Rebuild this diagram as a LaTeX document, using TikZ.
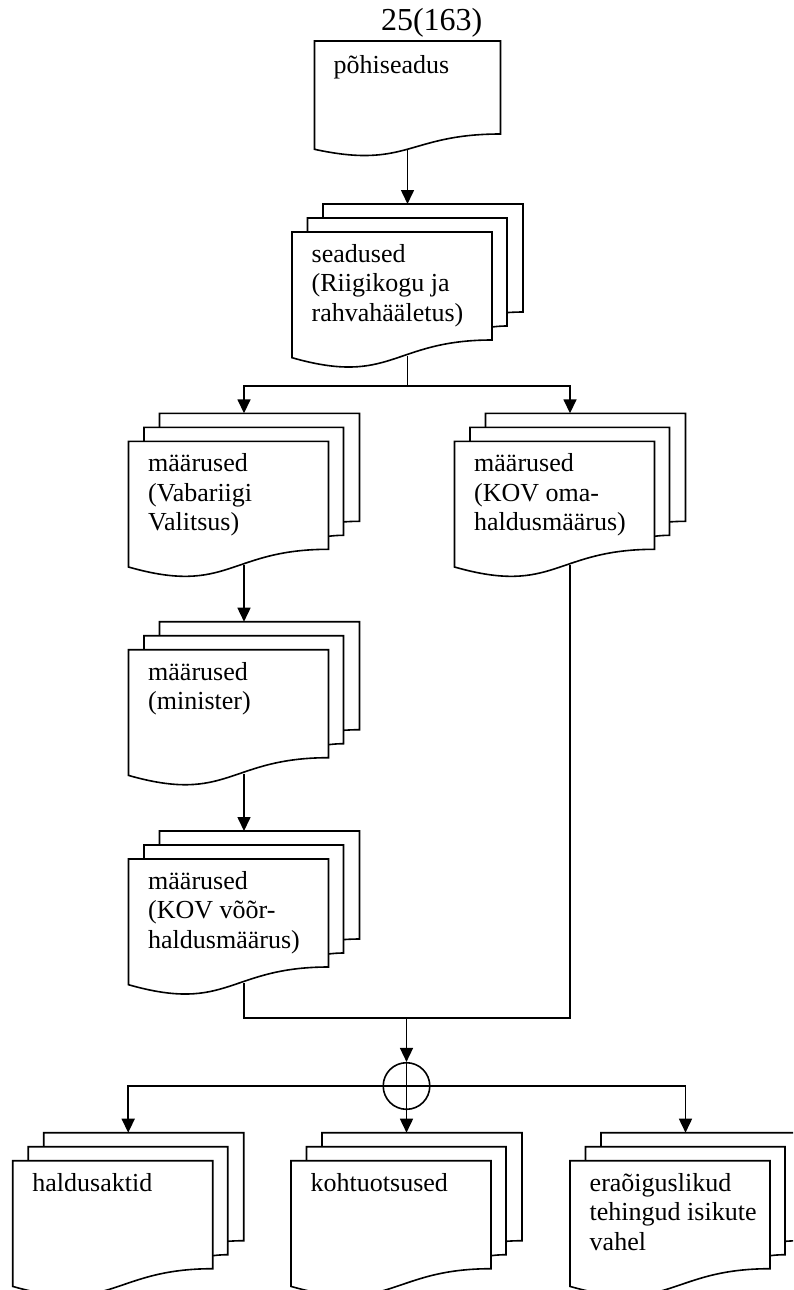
\documentclass[tikz,border=0pt]{standalone}
\usepackage{fontspec}
\setmainfont{Liberation Serif}
\usetikzlibrary{arrows.meta}
\tikzset{
  ln/.style={line width=1.6pt},
  arr/.style={ln, -{Triangle[length=14pt,width=13pt]}},
  lbl/.style={anchor=base west, inner sep=0pt, font=\fontsize{26}{29.5}\selectfont},
  stackbox/.style={minimum width=231pt, minimum height=152pt, inner sep=0pt, outer sep=0pt, anchor=north west},
  docbox/.style={minimum width=186pt, minimum height=108pt, inner sep=0pt, outer sep=0pt, anchor=north west},
}
\newcommand\mdoc[4]{%
  \node[stackbox] (#1) at (#2,#3) {};
  \begin{scope}[shift={(#1.north west)}]
    \draw[ln] (31,14) -- (31,0) -- (231,0) -- (231,108) .. controls (223,108) and (215,108.6) .. (215,108.6);
    \draw[ln] (15.5,28) -- (15.5,14) -- (215,14) -- (215,122) .. controls (207,122) and (200,123) .. (200,123);
    \draw[ln] (0,28) -- (200,28) -- (200,136) .. controls (100,136) and (100,182.3) .. (0,153.7) -- cycle;
    \node[lbl] (#1-t) at (19.5,58.3) {\begin{tabular}[t]{@{}l@{}}#4\end{tabular}};
  \end{scope}}
\begin{document}
\begin{tikzpicture}[x=1pt,y=-1pt]
\useasboundingbox (0,0) rectangle (793,1290);
\clip (0,0) rectangle (793,1290);
\node[font=\fontsize{32}{36}\selectfont, anchor=base, inner sep=0pt] (pg) at (431.7,31) {25(163)};
% single document
\node[docbox] (doc) at (314.5,41) {};
\begin{scope}[shift={(doc.north west)}]
  \draw[ln] (0,0) -- (186,0) -- (186,93) .. controls (93,93) and (93,128.5) .. (0,108.3) -- cycle;
  \node[lbl] (doc-t) at (19,32.5) {põhiseadus};
\end{scope}
\mdoc{sead}{292}{204}{seadused\\(Riigikogu ja\\rahvahääletus)}
\mdoc{vab}{128.5}{413.3}{määrused\\(Vabariigi\\Valitsus)}
\mdoc{oma}{454.5}{413.3}{määrused\\(KOV oma-\\haldusmäärus)}
\mdoc{min}{128.5}{621.7}{määrused\\(minister)}
\mdoc{voor}{128.5}{831}{määrused\\(KOV võõr-\\haldusmäärus)}
\mdoc{hald}{12.7}{1132.7}{haldusaktid}
\mdoc{koh}{291}{1132.7}{kohtuotsused}
\mdoc{era}{570}{1132.7}{eraõiguslikud\\tehingud isikute\\vahel}
% connectors
\draw[arr] (doc.south) -- (sead.north);
\coordinate (j1) at (407.5,386);
\draw[ln] (sead.south) -- (j1);
\draw[arr] (j1) -| (vab.north);
\draw[arr] (j1) -| (oma.north);
\draw[arr] (vab.south) -- (min.north);
\draw[arr] (min.south) -- (voor.north);
\node[circle, draw, ln, minimum size=46.6pt, inner sep=0pt,
  path picture={\draw[ln] (path picture bounding box.north) -- (path picture bounding box.south);}] (sum) at (406.5,1086) {};
\coordinate (j2) at (406.5,1018);
\draw[ln] (voor.south) |- (j2);
\draw[ln] (oma.south) |- (j2);
\draw[arr] (j2) -- (sum.north);
\draw[ln] (sum.west) -- (sum.east);
\draw[arr] (sum.west) -| (hald.north);
\draw[arr] (sum.east) -| (era.north);
\draw[arr] (sum.south) -- (koh.north);
\end{tikzpicture}
\end{document}
